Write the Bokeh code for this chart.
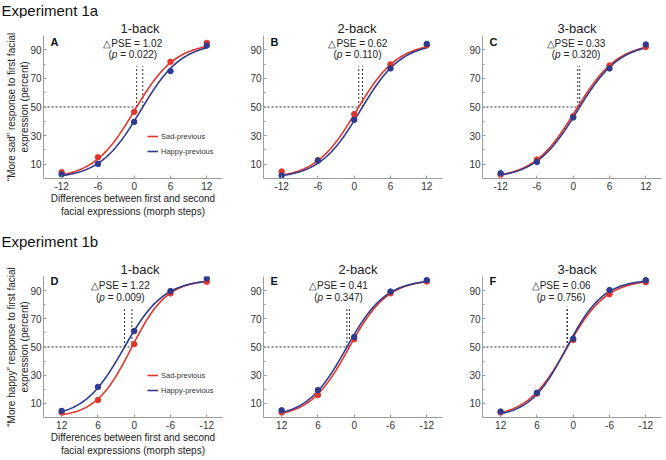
import numpy as np
from bokeh.plotting import figure
from bokeh.models import Range1d, FixedTicker, Label, Legend, LegendItem, Title
from bokeh.core.properties import value
from bokeh.layouts import column, row
from bokeh.embed import file_html
from bokeh.resources import INLINE

# ---------------- data ----------------
morph_steps_1a = [-12, -6, 0, 6, 12]
morph_steps_1b = [12, 6, 0, -6, -12]
x_ticks = [-12, -6, 0, 6, 12]
x_tick_labels = ["-12", "-6", "0", "6", "12"]
y_ticks = [10, 30, 50, 70, 90]
y_minor = [20, 40, 60, 80]

experiment_titles = ["Experiment 1a", "Experiment 1b"]
panel_letters = ["A", "B", "C", "D", "E", "F"]
panel_titles = ["1-back", "2-back", "3-back", "1-back", "2-back", "3-back"]
series_names = ["Sad-previous", "Happy-previous"]
y_label_1a = "\u201cMore sad\u201d response to first facial\nexpression (percent)"
y_label_1b = "\u201cMore happy\u201d response to first facial\nexpression (percent)"
x_label = "Differences between first and second\nfacial expressions (morph steps)"

# Experiment 1a ("more sad" %), at morph_steps_1a
sad_1a_1back = [4.4, 14.8, 46.6, 81.6, 94.8]
happy_1a_1back = [2.8, 10.2, 39.6, 75.1, 93.0]
sad_1a_2back = [4.9, 12.8, 45.0, 79.8, 93.2]
happy_1a_2back = [2.1, 12.5, 41.0, 77.0, 94.1]
sad_1a_3back = [2.6, 13.2, 43.5, 79.0, 92.0]
happy_1a_3back = [3.7, 11.6, 42.7, 77.0, 93.7]

# Experiment 1b ("more happy" %), at morph_steps_1b
sad_1b_1back = [3.5, 12.4, 52.0, 88.0, 96.3]
happy_1b_1back = [4.7, 21.7, 61.3, 89.7, 98.6]
sad_1b_2back = [3.5, 15.9, 55.5, 88.1, 96.5]
happy_1b_2back = [5.1, 19.4, 57.1, 89.3, 97.4]
sad_1b_3back = [3.5, 17.0, 55.0, 87.4, 96.0]
happy_1b_3back = [4.2, 17.5, 55.9, 90.4, 97.4]

# fitted psychometric functions (PSE = 50% point, slope, upper asymptote)
pse_sad_1a = [0.40, 0.75, 0.75]
pse_happy_1a = [1.42, 1.37, 1.08]
slope_sad_1a = [3.4, 3.4, 3.5]
slope_happy_1a = [3.4, 3.4, 3.5]
upper_1a = 95.0

pse_sad_1b = [0.38, 0.79, 0.96]
pse_happy_1b = [1.60, 1.20, 1.02]
slope_sad_1b = [2.95, 3.2, 3.3]
slope_happy_1b = [3.3, 3.25, 3.05]
upper_1b = 98.0

delta_pse = ["1.02", "0.62", "0.33", "1.22", "0.41", "0.06"]
p_values = ["0.022", "0.110", "0.320", "0.009", "0.347", "0.756"]

# ---------------- style / layout ----------------
FONT = "Liberation Sans"
RED = "#e4342a"
BLUE = "#2c3b8f"
AXIS = "#9c9c9c"
TOTAL_W = 664

cols = [dict(width=230, bl=43, br=8),
        dict(width=220, bl=33, br=8),
        dict(width=214, bl=32, br=3)]
# heading strips (page-pixel coordinates) and panel rows
heads = [dict(top=0, height=18, exp_y=10), dict(top=226, height=25, exp_y=241)]
rows_cfg = [dict(height=208, bt=17, bb=48), dict(height=207, bt=25, bb=39)]
title_offset = [77, 74, 75, 77, 75, 75]
ann_x = [-0.24, 0.6, 0.46, 2.3, 2.6, 2.0]
ann_y = [(135, 124), (132.5, 120.5)]
dash_top = 78.5


def heading(r):
    h = heads[r]
    p = figure(width=TOTAL_W, height=h["height"], x_range=Range1d(0, TOTAL_W),
               y_range=Range1d(h["top"] + h["height"], h["top"]),
               min_border=0, x_axis_location=None, y_axis_location=None,
               output_backend="svg", toolbar_location=None)
    p.xgrid.visible = False
    p.ygrid.visible = False
    p.outline_line_color = None
    p.text(x=[1], y=[h["exp_y"]], text=[experiment_titles[r]], text_font=value(FONT),
           text_font_size=value("15px"), text_align="left", text_baseline="middle",
           text_color="#111111")
    return p


def add_text(p, text, x, y, x_units="screen", size="10px", align="center",
             baseline="middle", style="normal", color="#222222", x_offset=0):
    p.add_layout(Label(x=x, y=y, x_units=x_units, y_units="screen", text=text,
                       text_font=FONT, text_font_size=size, text_align=align,
                       text_baseline=baseline, text_font_style=style,
                       text_color=color, x_offset=x_offset))


def curve(xs, pse, s, hi, reverse):
    sign = 1.0 if reverse else -1.0
    x0 = pse - sign * s * np.log(hi / 50.0 - 1.0)
    return hi / (1.0 + np.exp(sign * (xs - x0) / s))


sad_data = [[sad_1a_1back, sad_1a_2back, sad_1a_3back], [sad_1b_1back, sad_1b_2back, sad_1b_3back]]
happy_data = [[happy_1a_1back, happy_1a_2back, happy_1a_3back], [happy_1b_1back, happy_1b_2back, happy_1b_3back]]
pse_sad = [pse_sad_1a, pse_sad_1b]
pse_happy = [pse_happy_1a, pse_happy_1b]
slope_sad = [slope_sad_1a, slope_sad_1b]
slope_happy = [slope_happy_1a, slope_happy_1b]
upper = [upper_1a, upper_1b]
steps = [morph_steps_1a, morph_steps_1b]
y_labels = [y_label_1a, y_label_1b]

blocks = []
for r in range(2):
    rc = rows_cfg[r]
    reverse = (r == 1)
    figs = []
    for c in range(3):
        cc = cols[c]
        k = r * 3 + c
        xr = Range1d(15, -14.6) if reverse else Range1d(-15, 14.6)
        p = figure(width=cc["width"], height=rc["height"], x_range=xr, y_range=Range1d(0, 100),
                   min_border_left=cc["bl"], min_border_right=cc["br"],
                   min_border_top=rc["bt"], min_border_bottom=rc["bb"],
                   output_backend="svg", toolbar_location=None)
        p.xgrid.visible = False
        p.ygrid.visible = False
        p.outline_line_color = None
        p.background_fill_color = "white"
        p.border_fill_color = "white"

        p.add_layout(Title(text=panel_titles[k], align="left", offset=title_offset[k],
                           text_font=FONT, text_font_size="13px", text_font_style="normal",
                           text_color="#222222", standoff=0), "above")

        p.xaxis.ticker = FixedTicker(ticks=x_ticks)
        p.xaxis.major_label_overrides = dict(zip(x_ticks, x_tick_labels))
        p.yaxis.ticker = FixedTicker(ticks=y_ticks, minor_ticks=y_minor)
        for ax in (p.xaxis, p.yaxis):
            ax.axis_line_color = AXIS
            ax.major_tick_line_color = AXIS
            ax.minor_tick_line_color = AXIS
            ax.major_tick_in = 3
            ax.major_tick_out = 0
            ax.minor_tick_in = 2
            ax.minor_tick_out = 0
            ax.major_label_text_font = FONT
            ax.major_label_text_font_size = "10px"
            ax.major_label_text_color = "#333333"
            ax.axis_label_text_font = FONT
            ax.axis_label_text_font_size = "10px"
            ax.axis_label_text_font_style = "normal"
            ax.axis_label_text_color = "#222222"
        p.xaxis.major_label_standoff = 3
        p.yaxis.major_label_standoff = 2

        xs = np.linspace(-12, 12, 200)
        hi = upper[r]
        ys_s = curve(xs, pse_sad[r][c], slope_sad[r][c], hi, reverse)
        ys_h = curve(xs, pse_happy[r][c], slope_happy[r][c], hi, reverse)

        # dashed guides
        p.line([xr.start, pse_sad[r][c]], [50, 50], line_color="#333333", line_width=1, line_dash="2 2")
        p.segment(x0=[pse_sad[r][c], pse_happy[r][c]], y0=[50, 50],
                  x1=[pse_sad[r][c], pse_happy[r][c]], y1=[dash_top, dash_top],
                  line_color="#333333", line_width=1, line_dash="2 2")

        r_sad = p.line(xs, ys_s, line_color=RED, line_width=1.6)
        r_hap = p.line(xs, ys_h, line_color=BLUE, line_width=1.6)
        p.scatter(steps[r], sad_data[r][c], size=5.5, color=RED)
        p.scatter(steps[r], happy_data[r][c], size=5.5, color=BLUE)

        fh = rc["height"] - rc["bt"] - rc["bb"]
        add_text(p, panel_letters[k], 7, fh, size="11px", align="left", baseline="top",
                 style="bold", color="#111111")
        # delta PSE annotation
        y1, y2 = ann_y[r]
        add_text(p, "\u25b3PSE = " + delta_pse[k], ann_x[k], y1, x_units="data")
        add_text(p, "(", ann_x[k], y2, x_units="data", align="left", x_offset=-24.3)
        add_text(p, "p", ann_x[k], y2, x_units="data", align="left", style="italic", x_offset=-21.0)
        add_text(p, "= " + p_values[k] + ")", ann_x[k], y2, x_units="data", align="left", x_offset=-12.6)

        if c == 0:
            p.yaxis.axis_label = y_labels[r]
            p.yaxis.axis_label_standoff = -3
            p.xaxis.axis_label = x_label
            p.xaxis.axis_label_standoff = 0
            legend = Legend(items=[LegendItem(label=series_names[0], renderers=[r_sad]),
                                   LegendItem(label=series_names[1], renderers=[r_hap])],
                            location=(104, 22), orientation="vertical",
                            padding=0, margin=0, spacing=5, glyph_width=11, glyph_height=10,
                            label_height=10, label_standoff=3, label_text_font=FONT,
                            label_text_font_size="7.5px", label_text_color="#333333",
                            border_line_color=None, background_fill_alpha=0)
            p.add_layout(legend)
        figs.append(p)
    blocks.append(heading(r))
    blocks.append(row(*figs, spacing=0))

layout = column(*blocks, spacing=0)
open("out.html", "w").write(file_html(layout, INLINE))
